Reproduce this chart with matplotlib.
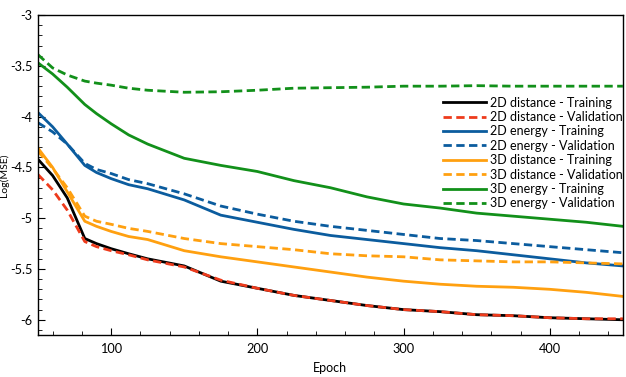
import numpy as np
import matplotlib.pyplot as plt
from matplotlib.ticker import MultipleLocator

plt.rcParams['font.family'] = ['Lato', 'DejaVu Sans']
plt.rcParams['axes.unicode_minus'] = False

# epochs (shared by every curve)
epochs = [50, 60, 70, 82, 90, 100, 112, 125, 150, 175, 200, 225, 250, 275, 300, 325, 350, 375, 400, 425, 450]

# log(MSE) values
dist2d_train = [-4.42, -4.58, -4.80, -5.20, -5.25, -5.30, -5.35, -5.40, -5.47, -5.62, -5.69, -5.76, -5.81,
                -5.86, -5.90, -5.92, -5.95, -5.96, -5.98, -5.99, -6.00]
dist2d_val = [-4.57, -4.72, -4.92, -5.23, -5.28, -5.32, -5.36, -5.41, -5.48, -5.61, -5.69, -5.76, -5.81,
              -5.86, -5.90, -5.92, -5.95, -5.96, -5.98, -5.99, -5.99]
energy2d_train = [-3.96, -4.10, -4.27, -4.48, -4.55, -4.61, -4.67, -4.71, -4.82, -4.97, -5.04, -5.11, -5.17,
                  -5.21, -5.25, -5.29, -5.32, -5.36, -5.40, -5.44, -5.47]
energy2d_val = [-4.06, -4.15, -4.27, -4.46, -4.52, -4.56, -4.62, -4.66, -4.76, -4.88, -4.96, -5.03, -5.08,
                -5.12, -5.16, -5.20, -5.22, -5.25, -5.28, -5.31, -5.34]
dist3d_train = [-4.31, -4.50, -4.74, -5.03, -5.08, -5.13, -5.18, -5.21, -5.32, -5.38, -5.43, -5.48, -5.53,
                -5.58, -5.62, -5.65, -5.67, -5.68, -5.70, -5.73, -5.77]
dist3d_val = [-4.34, -4.51, -4.70, -4.98, -5.03, -5.06, -5.10, -5.13, -5.20, -5.25, -5.28, -5.31, -5.35,
              -5.37, -5.38, -5.41, -5.42, -5.43, -5.43, -5.44, -5.45]
energy3d_train = [-3.47, -3.58, -3.71, -3.88, -3.97, -4.07, -4.18, -4.27, -4.41, -4.48, -4.54, -4.63, -4.70,
                  -4.79, -4.86, -4.90, -4.95, -4.98, -5.01, -5.04, -5.08]
energy3d_val = [-3.39, -3.52, -3.59, -3.65, -3.67, -3.69, -3.72, -3.74, -3.76, -3.755, -3.74, -3.72, -3.715,
                -3.71, -3.70, -3.70, -3.695, -3.70, -3.70, -3.70, -3.70]

fig = plt.figure(figsize=(6.26, 3.77), dpi=100)
ax = fig.add_axes([0.0607, 0.1114, 0.9343, 0.8486])

lw = 2.0
dash = (0, (3, 1.6))
ax.plot(epochs, dist2d_train, color='black', lw=lw, label='2D distance - Training')
ax.plot(epochs, dist2d_val, color='#ee3b1c', lw=lw, ls=dash, label='2D distance - Validation')
ax.plot(epochs, energy2d_train, color='#0b5c9e', lw=lw, label='2D energy - Training')
ax.plot(epochs, energy2d_val, color='#0b5c9e', lw=lw, ls=dash, label='2D energy - Validation')
ax.plot(epochs, dist3d_train, color='#ffa010', lw=lw, label='3D distance - Training')
ax.plot(epochs, dist3d_val, color='#ffa010', lw=lw, ls=dash, label='3D distance - Validation')
ax.plot(epochs, energy3d_train, color='#12901a', lw=lw, label='3D energy - Training')
ax.plot(epochs, energy3d_val, color='#12901a', lw=lw, ls=dash, label='3D energy - Validation')

ax.set_xlim(50, 450)
ax.set_ylim(-6.15, -3)
ax.xaxis.set_major_locator(MultipleLocator(100))
ax.xaxis.set_minor_locator(MultipleLocator(20))
ax.yaxis.set_major_locator(MultipleLocator(0.5))
ax.yaxis.set_minor_locator(MultipleLocator(0.1))
ax.yaxis.set_major_formatter(plt.FuncFormatter(lambda v, p: ('%g' % v)))
ax.tick_params(which='both', direction='in', top=False, right=False, labelsize=9.2)
ax.tick_params(axis='x', which='both', pad=6)
ax.tick_params(axis='y', which='both', pad=4)
ax.tick_params(which='major', length=5)
ax.tick_params(which='minor', length=3)
for s in ax.spines.values():
    s.set_linewidth(1.0)

ax.set_xlabel('Epoch', fontsize=9, labelpad=5)
ax.set_ylabel('Log(MSE)', fontsize=7.5)
ax.yaxis.set_label_coords(-0.049, 0.5)

ax.legend(loc='upper right', bbox_to_anchor=(1.0, 0.745), frameon=False, fontsize=9,
          handlelength=3.4, handletextpad=0.35, labelspacing=0.19, borderaxespad=0, borderpad=0)

fig.savefig('out.png', dpi=100)
